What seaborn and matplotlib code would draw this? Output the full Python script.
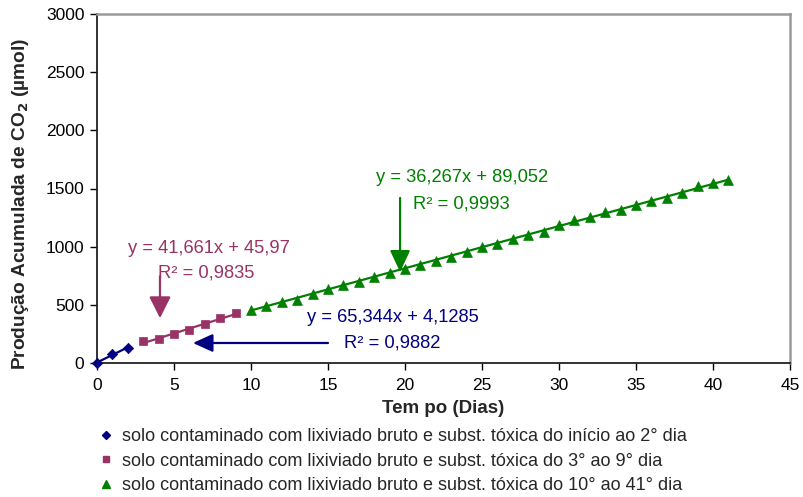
import numpy as np
import pandas as pd
import matplotlib
matplotlib.use("Agg")
import matplotlib.pyplot as plt
from matplotlib.lines import Line2D
import seaborn as sns

# Cumulative CO2 production (µmol) per day, three phases
dias_fase1 = [0, 1, 2]
co2_fase1 = [0, 77.7, 130.7]

dias_fase2 = [3, 4, 5, 6, 7, 8, 9]
co2_fase2 = [188, 207, 250, 280, 333, 383, 430]

dias_fase3 = list(range(10, 42))
co2_fase3 = [452, 490, 522, 545, 596, 634, 674, 700, 740, 775, 808, 845,
             876, 910, 958, 993, 1020, 1068, 1097, 1130, 1182, 1225, 1255,
             1298, 1318, 1358, 1390, 1422, 1460, 1518, 1548, 1574]

# Linear trend lines (slope, intercept, R²) per phase
inclinacoes = [65.344, 41.661, 36.267]
interceptos = [4.1285, 45.97, 89.052]
r2 = ["0,9882", "0,9835", "0,9993"]
equacoes = ["y = 65,344x + 4,1285", "y = 41,661x + 45,97", "y = 36,267x + 89,052"]

rotulos = [
    "solo contaminado com lixiviado bruto e subst. tóxica do início ao 2° dia",
    "solo contaminado com lixiviado bruto e subst. tóxica do 3° ao 9° dia",
    "solo contaminado com lixiviado bruto e subst. tóxica do 10° ao 41° dia",
]
cores = ["#000080", "#993366", "#008000"]
marcadores = ["D", "s", "^"]
tam_marcador = [28, 34, 50]

x_ticks = list(range(0, 46, 5))
y_ticks = list(range(0, 3001, 500))

sns.set_theme(style="white")
plt.rcParams["font.family"] = ["Liberation Sans", "DejaVu Sans"]

fig = plt.figure(figsize=(8.04, 4.97), dpi=100)
ax = fig.add_axes([97 / 804, 1 - 363 / 497, (790 - 97) / 804, (363 - 14) / 497])

fases = [(dias_fase1, co2_fase1), (dias_fase2, co2_fase2), (dias_fase3, co2_fase3)]
handles = []
for i, (dx, dy) in enumerate(fases):
    df = pd.DataFrame({"dia": dx, "co2": dy})
    # trend line over the phase's range
    xs = np.array([dx[0], dx[-1]], dtype=float)
    tend = pd.DataFrame({"dia": xs, "co2": inclinacoes[i] * xs + interceptos[i]})
    sns.lineplot(data=tend, x="dia", y="co2", ax=ax, color=cores[i], lw=1.6,
                 legend=False, zorder=2, clip_on=False)
    sns.scatterplot(data=df, x="dia", y="co2", ax=ax, color=cores[i],
                    marker=marcadores[i], s=tam_marcador[i], edgecolor=cores[i],
                    linewidth=0.5, legend=False, zorder=3, clip_on=False)
    handles.append(Line2D([], [], ls="none", marker=marcadores[i], color=cores[i],
                          markersize=[4, 4.5, 5.5][i], label=rotulos[i]))

ax.set_xlim(0, 45)
ax.set_ylim(0, 3000)
ax.set_xticks(x_ticks)
ax.set_yticks(y_ticks)
ax.tick_params(axis="both", labelsize=12.5, colors="black", direction="out",
               length=5, width=1, bottom=True, left=True, pad=6)
ax.tick_params(axis="y", pad=4)

for lado in ["left", "bottom"]:
    ax.spines[lado].set_color("#222222")
    ax.spines[lado].set_linewidth(1.3)
for lado in ["top", "right"]:
    ax.spines[lado].set_color("#9a9a9a")
    ax.spines[lado].set_linewidth(1.8)

ax.set_xlabel("Tem po (Dias)", fontsize=13.5, fontweight="bold", labelpad=5)
ax.set_ylabel("Produção Acumulada de CO$_{\\mathbf{2}}$ (µmol)", fontsize=13.8,
              fontweight="bold", va="center")
ax.yaxis.set_label_coords(-0.111, 0.456)

fs = 13.2
# Phase 2 equation and arrow
ax.text(7.3, 980, equacoes[1], color=cores[1], fontsize=fs, ha="center", va="center")
ax.text(7.1, 774, "R² = " + r2[1], color=cores[1], fontsize=fs, ha="center", va="center")
ax.annotate("", xy=(4.09, 385), xytext=(4.09, 745),
            arrowprops=dict(arrowstyle="-|>,head_length=0.6,head_width=0.3",
                            color=cores[1], lw=1.6, mutation_scale=22,
                            shrinkA=0, shrinkB=0))

# Phase 3 equation and arrow
ax.text(23.73, 1591, equacoes[2], color=cores[2], fontsize=fs, ha="center", va="center")
ax.text(23.67, 1367, "R² = " + r2[2], color=cores[2], fontsize=fs, ha="center", va="center")
ax.annotate("", xy=(19.68, 782), xytext=(19.68, 1419),
            arrowprops=dict(arrowstyle="-|>,head_length=0.6,head_width=0.28",
                            color=cores[2], lw=1.6, mutation_scale=22,
                            shrinkA=0, shrinkB=0))

# Phase 1 equation and arrow
ax.text(19.2, 395, equacoes[0], color=cores[0], fontsize=fs, ha="center", va="center")
ax.text(19.2, 172, "R² = " + r2[0], color=cores[0], fontsize=fs, ha="center", va="center")
ax.annotate("", xy=(6.23, 172), xytext=(15.0, 172),
            arrowprops=dict(arrowstyle="-|>,head_length=0.55,head_width=0.25",
                            color=cores[0], lw=1.6, mutation_scale=22,
                            shrinkA=0, shrinkB=0))

fig.legend(handles=handles, loc="upper left", bbox_to_anchor=(99 / 804, 1 - 428 / 497),
           frameon=False, fontsize=13, handlelength=0.8, handletextpad=0.5,
           labelspacing=0.42, borderpad=0, borderaxespad=0)

fig.savefig("out.png", dpi=100)
